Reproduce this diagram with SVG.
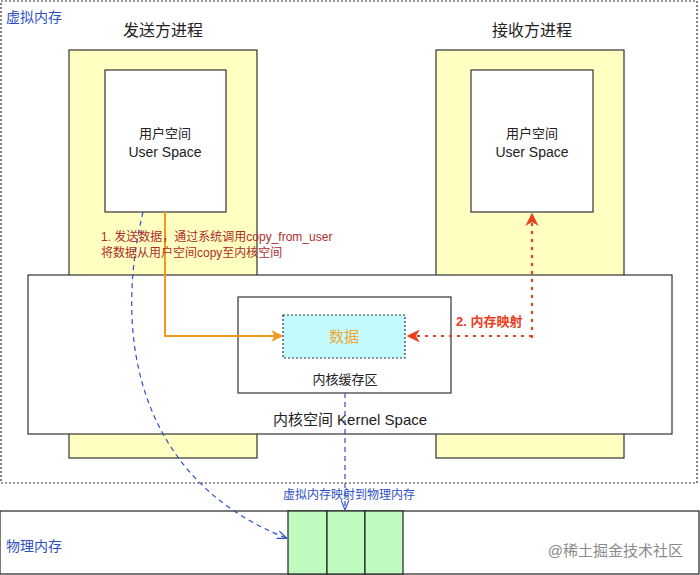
<svg xmlns="http://www.w3.org/2000/svg" width="700" height="575" viewBox="0 0 700 575">
<defs>
<style>
text{font-family:"Liberation Sans","Noto Sans CJK SC",sans-serif;}
.proc{fill:#FFFFC2;stroke:#333;stroke-width:1.2;}
.box{fill:#fff;stroke:#333;stroke-width:1.2;}
.green{fill:#BFFABF;stroke:#222;stroke-width:1.2;}
.blue{fill:#2E4FC6;}
.dark{fill:#222;}
</style>
<marker id="ao" viewBox="0 0 10 10" refX="9" refY="5" markerWidth="6" markerHeight="6" markerUnits="strokeWidth" orient="auto"><path d="M0,0 L10,5 L0,10 L3,5 z" fill="#F5961E"/></marker>
<marker id="ar" viewBox="0 0 10 10" refX="9" refY="5" markerWidth="6" markerHeight="6" markerUnits="strokeWidth" orient="auto"><path d="M0,0 L10,5 L0,10 L3,5 z" fill="#E8401C"/></marker>
<marker id="ab" viewBox="0 0 10 10" refX="9" refY="5" markerWidth="8" markerHeight="8" markerUnits="strokeWidth" orient="auto"><path d="M0,1 L10,5 L0,9" fill="none" stroke="#2E4FC6" stroke-width="1.2"/></marker>
</defs>
<rect width="700" height="575" fill="#fff"/>
<g id="virtual-memory">
<rect x="1" y="1" width="696" height="482" fill="none" stroke="#333" stroke-width="1.2" stroke-dasharray="2,2"/>
<text x="6" y="22" font-size="14" class="blue">虚拟内存</text>
</g>
<g id="sender">
<rect class="proc" x="69" y="50" width="188" height="408"/>
<text x="163" y="36" font-size="16" text-anchor="middle" class="dark">发送方进程</text>
</g>
<g id="sender-user">
<rect class="box" x="105" y="70" width="121" height="142"/>
<text x="165" y="138" font-size="13" text-anchor="middle" class="dark">用户空间</text>
<text x="165" y="157" font-size="14" text-anchor="middle" class="dark">User Space</text>
</g>
<g id="receiver">
<rect class="proc" x="436" y="50" width="188" height="408"/>
<text x="532" y="36" font-size="16" text-anchor="middle" class="dark">接收方进程</text>
</g>
<g id="receiver-user">
<rect class="box" x="471" y="70" width="122" height="142"/>
<text x="532" y="138" font-size="13" text-anchor="middle" class="dark">用户空间</text>
<text x="532" y="157" font-size="14" text-anchor="middle" class="dark">User Space</text>
</g>
<g id="kernel">
<rect class="box" x="28" y="275" width="644" height="159"/>
<text x="350" y="425" font-size="15" text-anchor="middle" class="dark">内核空间 Kernel Space</text>
</g>
<g id="kernel-buffer">
<rect class="box" x="238" y="297" width="213" height="96"/>
<text x="345" y="384" font-size="13" text-anchor="middle" class="dark">内核缓存区</text>
</g>
<g id="data">
<rect x="283" y="315" width="122" height="43" fill="#C2FAFD" stroke="#334" stroke-width="1.2" stroke-dasharray="2,2"/>
<text x="344" y="342" font-size="15" text-anchor="middle" fill="#F0A830">数据</text>
</g>
<g id="physical-memory">
<rect x="0" y="511" width="699" height="63" fill="#fff" stroke="#222" stroke-width="1.2"/>
<text x="6" y="551" font-size="14" class="blue">物理内存</text>
<rect class="green" x="288" y="511" width="39" height="63"/>
<rect class="green" x="327" y="511" width="38" height="63"/>
<rect class="green" x="365" y="511" width="38" height="63"/>
</g>
<g id="connectors">
<path d="M165,212 V336 H282" fill="none" stroke="#F5961E" stroke-width="2" marker-end="url(#ao)"/>
<path d="M532,338 V214" fill="none" stroke="#E8401C" stroke-width="2.2" stroke-dasharray="3,5" marker-end="url(#ar)"/>
<path d="M532,336 H408" fill="none" stroke="#E8401C" stroke-width="2.2" stroke-dasharray="3,5" marker-end="url(#ar)"/>
<path d="M143,212 C112,340 140,480 286,538" fill="none" stroke="#2E4FC6" stroke-width="1.2" stroke-dasharray="5,4" marker-end="url(#ab)"/>
<path d="M345,393 V509" fill="none" stroke="#2E4FC6" stroke-width="1.2" stroke-dasharray="5,4" marker-end="url(#ab)"/>
<text x="101" y="241" font-size="12" fill="#B02C2C">1. 发送数据，通过系统调用copy_from_user</text>
<text x="101" y="257" font-size="12" fill="#B02C2C">将数据从用户空间copy至内核空间</text>
<text x="456" y="326" font-size="13" font-weight="bold" fill="#E8401C">2. 内存映射</text>
<text x="349" y="499" font-size="12" text-anchor="middle" class="blue">虚拟内存映射到物理内存</text>
</g>
<text x="683" y="556" font-size="15" text-anchor="end" fill="#8A8A8A">@稀土掘金技术社区</text>
</svg>
